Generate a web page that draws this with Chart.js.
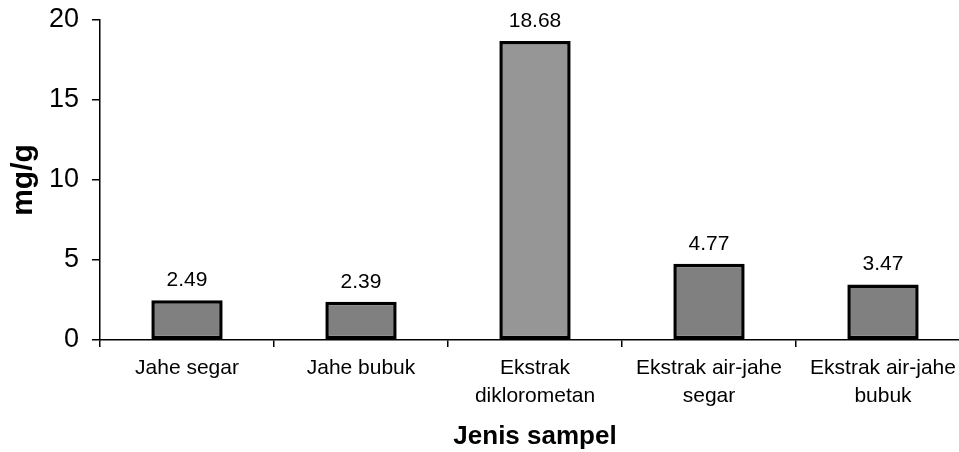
<!DOCTYPE html>
<html>
<head>
<meta charset="utf-8">
<script src="https://cdn.jsdelivr.net/npm/chart.js@4/dist/chart.umd.min.js"></script>
<style>
  html, body { margin: 0; padding: 0; background: #fff; overflow: hidden; }
  #wrap { width: 972px; height: 452px; }
</style>
</head>
<body>
<div id="wrap"><canvas id="myChart"></canvas></div>
<script>
// data
const kategori = [
	'Jahe segar',
	'Jahe bubuk',
	['Ekstrak', 'diklorometan'],
	['Ekstrak air-jahe', 'segar'],
	['Ekstrak air-jahe', 'bubuk']
];
const nilai = [2.49, 2.39, 18.68, 4.77, 3.47];
const warnaBatang = ['#808080', '#808080', '#969696', '#808080', '#808080'];
const tickY = [0, 5, 10, 15, 20];

const font = '"Liberation Sans", Arial, sans-serif';

// value on top of each bar
const labelNilai = {
	id: 'labelNilai',
	afterDatasetsDraw(chart) {
		const ctx = chart.ctx;
		const meta = chart.getDatasetMeta(0);
		ctx.save();
		ctx.font = '21px ' + font;
		ctx.fillStyle = '#000';
		ctx.textAlign = 'center';
		ctx.textBaseline = 'alphabetic';
		meta.data.forEach((bar, i) => {
			ctx.fillText(nilai[i].toFixed(2), bar.x, bar.y - 14);
		});
		ctx.restore();
	}
};

const ctx = document.getElementById('myChart');

new Chart(ctx, {
	type: 'bar',
	data: {
		labels: kategori,
		datasets: [{
			data: nilai,
			backgroundColor: warnaBatang,
			borderColor: '#000',
			borderWidth: 3.5,
			borderSkipped: false,
			categoryPercentage: 1,
			barPercentage: 0.41
		}]
	},
	options: {
		responsive: true,
		maintainAspectRatio: false,
		animation: false,
		layout: { padding: { top: 20, right: 2, left: 0, bottom: 0 } },
		plugins: {
			legend: { display: false },
			tooltip: { enabled: false }
		},
		scales: {
			x: {
				grid: {
					offset: true,
					drawOnChartArea: false,
					drawTicks: true,
					tickLength: 7,
					color: '#000',
					lineWidth: 1.5
				},
				border: { color: '#000', width: 1.5 },
				ticks: {
					color: '#000',
					font: { family: font, size: 21, lineHeight: 1.35 },
					padding: 7,
					maxRotation: 0,
					autoSkip: false
				},
				title: {
					display: true,
					text: 'Jenis sampel',
					color: '#000',
					font: { family: font, size: 26, weight: 'bold', lineHeight: 1.2 },
					padding: { top: 0, bottom: 0 }
				},
				afterFit(s) { s.height = 112; }
			},
			y: {
				min: 0,
				max: 20,
				afterBuildTicks(s) { s.ticks = tickY.map(v => ({ value: v })); },
				grid: {
					drawOnChartArea: false,
					drawTicks: true,
					tickLength: 8,
					color: '#000',
					lineWidth: 1.5
				},
				border: { color: '#000', width: 1.5 },
				ticks: {
					color: '#000',
					font: { family: font, size: 27 },
					padding: 13
				},
				title: {
					display: true,
					text: 'mg/g',
					color: '#000',
					font: { family: font, size: 30, weight: 'bold', lineHeight: 1.2 },
					padding: { top: 6, bottom: 0 }
				},
				afterFit(s) {
					s.width = 100;
					s.paddingTop = 0;
					s.paddingBottom = 0;
				}
			}
		}
	},
	plugins: [labelNilai]
});
</script>
</body>
</html>
